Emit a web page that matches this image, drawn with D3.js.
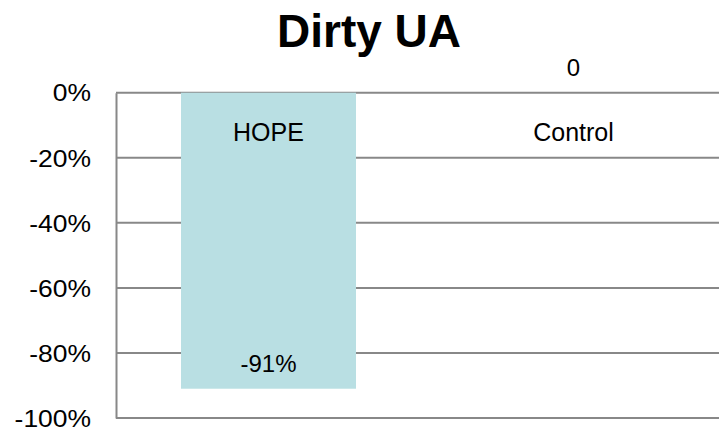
<!DOCTYPE html>
<html><head><meta charset="utf-8">
<script src="https://cdn.jsdelivr.net/npm/d3@7"></script>
<style>
html,body{margin:0;padding:0;background:#fff;}
svg{display:block;font-family:"Liberation Sans",Arial,sans-serif;}
</style></head>
<body>
<svg id="chart" width="719" height="430"></svg>
<script>
const title = "Dirty UA";
const categories = ["HOPE", "Control"];
const values = [-0.91, 0];
const valueLabels = ["-91%", "0"];
const tickValues = [0, -0.2, -0.4, -0.6, -0.8, -1.0];
const tickLabels = ["0%", "-20%", "-40%", "-60%", "-80%", "-100%"];

const svg = d3.select("#chart");
const plotLeft = 116, plotRight = 726, plotTop = 92.7, plotBottom = 418;

const y = d3.scaleLinear().domain([-1, 0]).range([plotBottom, plotTop]);
const p = 0.4262;
const x = d3.scaleBand().domain(categories).range([plotLeft, plotRight])
  .paddingInner(p).paddingOuter(p / 2);

// gridlines
svg.append("g").selectAll("line").data(tickValues).join("line")
  .attr("x1", plotLeft).attr("x2", 719)
  .attr("y1", d => y(d)).attr("y2", d => y(d))
  .attr("stroke", "#888").attr("stroke-width", 2);

// bars
svg.append("g").selectAll("rect").data(values).join("rect")
  .attr("x", (d, i) => x(categories[i]))
  .attr("width", x.bandwidth())
  .attr("y", d => y(Math.max(0, d)))
  .attr("height", d => Math.abs(y(d) - y(0)))
  .attr("fill", "#b9dfe3");

// y axis
const yAxis = d3.axisLeft(y).tickValues(tickValues)
  .tickFormat((d, i) => tickLabels[i]).tickSize(0).tickPadding(25);
const ga = svg.append("g").attr("transform", `translate(${plotLeft},0)`).call(yAxis);
ga.select(".domain").attr("stroke", "#888").attr("stroke-width", 2);
ga.selectAll(".tick text")
  .attr("font-size", 23).attr("fill", "#000")
  .attr("font-family", "Liberation Sans, Arial, sans-serif")
  .attr("dy", "0.36em")
  .attr("x", 0)
  .attr("transform", "translate(-25,0) scale(1.15,1)");

// category labels
svg.append("g").selectAll("text").data(categories).join("text")
  .attr("x", d => x(d) + x.bandwidth() / 2)
  .attr("y", y(0) + 48)
  .attr("text-anchor", "middle")
  .attr("font-size", 25)
  .attr("fill", "#000")
  .text(d => d);

// value labels
svg.append("g").selectAll("text").data(values).join("text")
  .attr("x", (d, i) => x(categories[i]) + x.bandwidth() / 2)
  .attr("y", d => d < 0 ? y(d) - 17 : y(0) - 17)
  .attr("text-anchor", "middle")
  .attr("font-size", 24)
  .attr("fill", "#000")
  .text((d, i) => valueLabels[i]);

// title
svg.append("text").attr("x", 369).attr("y", 47)
  .attr("text-anchor", "middle").attr("font-size", 46).attr("font-weight", "bold")
  .attr("fill", "#000").text(title);
</script>
</body></html>
